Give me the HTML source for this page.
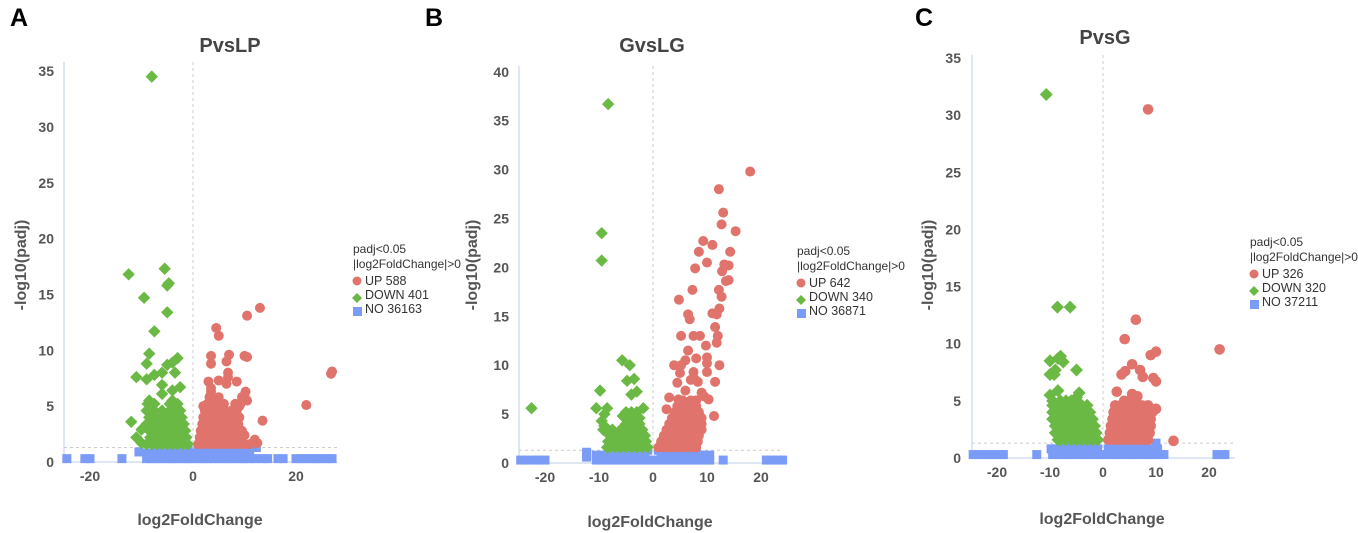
<!DOCTYPE html>
<html><head><meta charset="utf-8">
<style>
html,body{margin:0;padding:0;background:#fff;}
svg{display:block;font-family:"Liberation Sans",Arial,sans-serif;}
</style></head>
<body>
<svg id="chart" width="1358" height="533" viewBox="0 0 1358 533"></svg>
<script>
// ---------- data ----------
const panelTitles = ["PvsLP","GvsLG","PvsG"];
const panelLetters = ["A","B","C"];
const legendUp = ["UP 588","UP 642","UP 326"];
const legendDown = ["DOWN 401","DOWN 340","DOWN 320"];
const legendNo = ["NO 36163","NO 36871","NO 37211"];
const yTicksA = [0,5,10,15,20,25,30,35];
const yTicksB = [0,5,10,15,20,25,30,35,40];
const yTicksC = [0,5,10,15,20,25,30,35];
const xTicksA = [-20,0,20];
const xTicksB = [-20,-10,0,10,20];
const xTicksC = [-20,-10,0,10,20];
const threshold = 1.3;

// Panel A
const aUp = [[4.5,12],[5,11.3],[10.5,13.1],[13,13.8],[3.5,9.5],[3.5,8.8],[7,9.6],[6.5,9],[10,9.5],[10.5,9.4],[6.8,8],[6.8,7.6],[3,7.2],[3.5,6.6],[5,7.3],[6.5,7],[8.5,7.2],[9,5],[10,6],[10.5,5.5],[2,5],[13.5,3.7],[10,2.4],[12,2],[12.5,1.7],[22,5.1],[27,8.1],[26.8,7.9]];
const aUpRows = [
 [1.6,[1,2,3,4,5,6,7,8,9,10,11]],
 [2.2,[1.3,2.3,3.3,4.3,5.3,6.3,7.3,8.3,9.3]],
 [2.8,[1.5,2.5,3.5,4.5,5.5,6.5,7.5,8.5,9.5]],
 [3.4,[1.8,2.8,3.8,4.8,5.8,6.8,7.8,8.8]],
 [4.0,[2,3,4,5,6,7,8,9]],
 [4.6,[2.3,3.3,4.3,5.3,6.3,7.5,8.5]],
 [5.2,[2.8,4,5,6,8.2,9.2]],
 [5.8,[3.2,5,9.5]],
 [6.3,[3.5,10.2]]
];
const aDown = [[-8,34.5],[-5.5,17.3],[-12.5,16.8],[-5,15.8],[-4.7,16],[-9.5,14.7],[-5,13.4],[-7.5,11.7],[-8.5,9.7],[-9,8.8],[-3,9.3],[-4,8.9],[-5,8.7],[-11,7.6],[-9,7.4],[-7.5,7.8],[-6,8],[-3.5,8],[-6,6.9],[-4,6.4],[-2.5,6.7],[-6,6.1],[-8.5,5.5],[-7.5,5.2],[-4,5.5],[-12,3.6],[-10,2.9],[-11,2.2],[-10,1.7]];
const aDownRows = [
 [1.6,[-1,-2,-3,-4,-5,-6,-7,-8,-9]],
 [2.2,[-1.3,-2.3,-3.3,-4.3,-5.3,-6.3,-7.3,-8.3]],
 [2.8,[-1.5,-2.5,-3.5,-4.5,-5.5,-6.5,-7.5,-8.5]],
 [3.4,[-1.8,-2.8,-3.8,-4.8,-5.8,-6.8,-7.8,-9]],
 [4.0,[-2.2,-3.2,-4.2,-5.2,-6.2,-7.2,-8.5]],
 [4.6,[-2.5,-3.5,-4.5,-6,-7.5,-9]],
 [5.2,[-3,-4.5,-7.8,-8.8]]
];
const aNoRows = [
 [0.3,[-24.5,-21,-20,-13.8,-9,-8,-7,-6,-5,-4,-3,-2,-1,0,1,2,3,4,5,6,7,8,9,10,11,12,13.5,14.5,16.5,17.5,20,21,22,23,24,25,26,27]],
 [0.8,[-9,-8,-7,-6,-5,-4,-3,-2,-1,0,1,2,3,4,5,6,7,8,9,10,11]],
 [1.3,[-7,-6,-5,-4,-3,-2,-1,1,2,3,4,5,6,7,8,10.5,11.5,12.3]],
 [0.9,[-10.5]]
];

// Panel B
const bUp = [[18,29.8],[12.2,28],[13,25.6],[12.7,24.4],[15.3,23.7],[9.3,22.7],[11,22.3],[8.5,21.6],[14.3,21.6],[10,20.5],[13.2,20.3],[14,20.2],[7.8,19.9],[12.8,19.6],[13.5,18.6],[14,18.7],[7.3,17.7],[12.2,17.7],[12.7,17],[4.8,16.7],[12.3,15.8],[11,15.3],[11.8,15.2],[6.5,15.2],[6.8,14.7],[11.5,13.9],[12,13],[5.2,13],[7.5,13],[8.7,13],[11.8,12.3],[9.8,12],[6.5,11.5],[10,10.8],[10,10.2],[8,10.7],[3.9,10],[5.2,10],[6,10.5],[12.3,10],[5,9.2],[7.5,9.3],[7.7,8.6],[10,9.3],[11.5,8.3],[8.3,8.3],[7,8.5],[4.5,8.2],[6,7.4],[9,7.2],[9.5,6.8],[10.3,6.5],[3,6.7],[4.7,6.5],[11.3,4.8],[2.5,5.5],[8.5,5]];
const bUpRows = [
 [1.6,[1,2,3,4,5,6,7,8]],
 [2.2,[1.5,2.5,3.5,4.5,5.5,6.5,7.5,8.3]],
 [2.8,[2,3,4,5,6,7,8,8.5]],
 [3.4,[2.5,3.5,4.5,5.5,6.5,7.5,9]],
 [4.0,[3,4,5,6,7,8,9]],
 [4.6,[3.5,4.5,5.5,6.5,7.5,9]],
 [5.2,[4,5,6,7,8.5]],
 [5.8,[4.5,5.5,6.5,8]],
 [6.4,[5.5,7,8]]
];
const bDown = [[-8.3,36.7],[-9.5,23.5],[-9.5,20.7],[-22.5,5.6],[-5.7,10.5],[-4.3,10],[-4.8,8.4],[-3.5,8.6],[-9.8,7.4],[-3,7.3],[-4,7],[-10.5,5.6],[-8.5,5.6],[-9,5],[-9.5,4.3],[-9,3.8],[-9.2,3.4],[-5.6,4.8],[-1.8,5.6]];
const bDownRows = [
 [1.6,[-1,-2,-3,-4,-5,-6,-7,-8,-8.5]],
 [2.2,[-1.3,-2.3,-3.3,-4.3,-5.3,-6.3,-7.3,-8.3]],
 [2.8,[-1.5,-2.5,-3.5,-4.5,-5.5,-6.5,-7.5,-8]],
 [3.4,[-2,-3,-4,-5,-6,-7.5]],
 [4.0,[-2.5,-3,-4,-5]],
 [4.6,[-2.5,-3.5,-4.5,-5]],
 [5.2,[-3,-4,-5]]
];
const bNoRows = [
 [0.3,[-24.5,-23.5,-22,-21,-20,-10.5,-9.5,-8.5,-7.5,-6.5,-5.5,-4.5,-3.5,-2.5,-1.5,-0.5,0.5,1.5,2.5,3.5,4.5,5.5,6.5,7.5,8.5,9.5,10.5,13,21,22,23,24]],
 [0.8,[-10.5,-9.5,-8.5,-7.5,-6.5,-5.5,-4.5,-3.5,-2.5,-1.5,1.5,2.5,3.5,4.5,5.5,6.5,7.5,8.5,9.5,10.5]],
 [1.3,[-8,-7,-6,-5,-4,-3,-2,-1,1,2,3,4,5,6,7,8]],
 [1.1,[-12.3]],[0.6,[-12.3]]
];

// Panel C
const cUp = [[8.5,30.5],[6.2,12.1],[4.1,10.4],[22,9.5],[10,9.3],[9,9],[5.5,8.2],[7,7.7],[4.2,7.6],[3.5,7.3],[7.5,7.1],[9.5,7],[10,6.7],[2.6,5.8],[5.5,5.6],[6.5,5.4],[13.3,1.5],[10,4.3]];
const cUpRows = [
 [1.6,[1,2,3,4,5,6,7,8,8.5]],
 [2.2,[1.3,2.3,3.3,4.3,5.3,6.3,7.3,8.3,8.8]],
 [2.8,[1.5,2.5,3.5,4.5,5.5,6.5,7.5,8.5,9]],
 [3.4,[1.8,2.8,3.8,4.8,5.8,6.8,7.8,9]],
 [4.0,[2,3,4,5,6,7,8,9.3]],
 [4.6,[2.3,3.3,4.3,5.3,6.3,7.3,8.5]],
 [5.0,[4,5,6]]
];
const cDown = [[-10.7,31.8],[-8.6,13.2],[-6.2,13.2],[-8,8.9],[-8.5,8.7],[-10,8.5],[-7.5,8.4],[-9,7.7],[-5,7.7],[-9.2,7.3],[-10,7.3],[-10,5.5],[-8.5,5.9],[-4.5,5.7],[-5,5.3]];
const cDownRows = [
 [1.6,[-1,-2,-3,-4,-5,-6,-7,-8,-8.5]],
 [2.2,[-1.3,-2.3,-3.3,-4.3,-5.3,-6.3,-7.3,-8.3,-9]],
 [2.8,[-1.6,-2.6,-3.6,-4.6,-5.6,-6.6,-7.6,-8.6,-9]],
 [3.4,[-2,-3,-4,-5,-6,-7,-8,-9.5]],
 [4.0,[-2.5,-3.5,-4.5,-5.5,-6.5,-7.5,-8.5,-9.5]],
 [4.6,[-3,-4,-5,-6,-7,-8,-9.5]],
 [5.0,[-5,-6,-7,-8,-9.5]]
];
const cNoRows = [
 [0.3,[-24.5,-23.5,-22.5,-21.5,-20.5,-19.5,-18.8,-12.5,-9.5,-8.5,-7.5,-6.5,-5.5,-4.5,-3.5,-2.5,-1.5,-0.5,0.5,1.5,2.5,3.5,4.5,5.5,6.5,7.5,8.5,9.5,10.5,11.5,21.5,22.5,23]],
 [0.8,[-9.8,-9,-8,-7,-6,-5,-4,-3,-2,-1,1,2,3,4,5,6,7,8,9,10.3]],
 [1.3,[-7.5,-6.5,-5.5,-4.5,-3.5,-2.5,-1.5,1.5,2.5,3.5,4.5,5.5,6.5,7.5,10]]
];

// ---------- drawing ----------
const NS="http://www.w3.org/2000/svg";
const svg=document.getElementById('chart');
function mk(tag,attrs,parent){const e=document.createElementNS(NS,tag);for(const k in attrs)e.setAttribute(k,attrs[k]);(parent||svg).appendChild(e);return e;}
const RED="#e0736b",GREEN="#6bb945",BLUE="#7b9cf6",TXT="#555";

const panels=[
 {x0:193,xs:5.15,y0:462,ys:11.17,left:64,right:337,top:62,yt:yTicksA,xt:xTicksA,ylabX:54,xlabY:481,titleX:230,titleY:52,letterX:10,xTitleX:200,xTitleY:525,yTitleX:26,legX:353,legY:253,up:aUp,upRows:aUpRows,down:aDown,downRows:aDownRows,no:aNoRows,r:5},
 {x0:653,xs:5.4,y0:463,ys:9.78,left:519,right:782,top:66,yt:yTicksB,xt:xTicksB,ylabX:509,xlabY:482,titleX:652,titleY:52,letterX:425,xTitleX:650,xTitleY:527,yTitleX:477,legX:797,legY:255,up:bUp,upRows:bUpRows,down:bDown,downRows:bDownRows,no:bNoRows,r:5},
 {x0:1103,xs:5.3,y0:458,ys:11.43,left:972,right:1235,top:55,yt:yTicksC,xt:xTicksC,ylabX:961,xlabY:477,titleX:1105,titleY:44,letterX:915,xTitleX:1102,xTitleY:524,yTitleX:933,legX:1250,legY:246,up:cUp,upRows:cUpRows,down:cDown,downRows:cDownRows,no:cNoRows,r:5.3}
];

panels.forEach((p,i)=>{
 const g=mk('g',{});
 
 
 const X=v=>p.x0+v*p.xs, Y=v=>p.y0-v*p.ys;
 let t=mk('text',{x:p.letterX,y:26,'font-size':25,'font-weight':'bold',fill:'#000'},g);
 t.textContent=panelLetters[i];
 
 
 t=mk('text',{x:p.titleX,y:p.titleY,'font-size':20,'font-weight':'bold',fill:'#444','text-anchor':'middle'},g);
 t.textContent=panelTitles[i];
 
 
 let l=mk('line',{x1:p.left,y1:p.top,x2:p.left,y2:p.y0,stroke:'#d3ddef','stroke-width':1.5},g);
 
 
 l=mk('line',{x1:p.left,y1:p.y0,x2:p.right,y2:p.y0,stroke:'#d3ddef','stroke-width':1.5},g);
 
 
 p.yt.forEach(v=>{
  const tt=mk('text',{x:p.ylabX,y:Y(v)+5,'font-size':14,'font-weight':'bold',fill:TXT,'text-anchor':'end'},g);
  tt.textContent=v;
  
  
 });
 p.xt.forEach(v=>{
  const tt=mk('text',{x:X(v),y:p.xlabY,'font-size':14,'font-weight':'bold',fill:TXT,'text-anchor':'middle'},g);
  tt.textContent=v;
  
  
 });
 t=mk('text',{x:p.xTitleX,y:p.xTitleY,'font-size':16,'font-weight':'bold',fill:TXT,'text-anchor':'middle'},g);
 t.textContent='log2FoldChange';
 
 
 t=mk('text',{x:p.yTitleX,y:265,'font-size':16,'font-weight':'bold',fill:TXT,'text-anchor':'middle',transform:`rotate(-90 ${p.yTitleX} 265)`},g);
 t.textContent='-log10(padj)';
 
 
 l=mk('line',{x1:X(0),y1:p.top,x2:X(0),y2:p.y0,stroke:'#ccc','stroke-dasharray':'3,3'},g);
 
 
 l=mk('line',{x1:p.left,y1:Y(threshold),x2:p.right,y2:Y(threshold),stroke:'#ccc','stroke-dasharray':'3,3'},g);
 
 
 p.no.forEach(row=>row[1].forEach(x=>{
  const s=mk('rect',{x:X(x)-4.5,y:Y(row[0])-4.5,width:9,height:9,fill:BLUE},g);
  
  
 }));
 const drawDown=(x,y)=>{
  const cx=X(x),cy=Y(y),r=p.r+1.2;
  const d=mk('polygon',{points:`${cx},${cy-r} ${cx+r},${cy} ${cx},${cy+r} ${cx-r},${cy}`,fill:GREEN},g);
  
  
 };
 const drawUp=(x,y)=>{
  const c=mk('circle',{cx:X(x),cy:Y(y),r:p.r,fill:RED},g);
  
  
 };
 p.downRows.forEach(row=>row[1].forEach(x=>drawDown(x,row[0])));
 p.down.forEach(q=>drawDown(q[0],q[1]));
 p.upRows.forEach(row=>row[1].forEach(x=>drawUp(x,row[0])));
 p.up.forEach(q=>drawUp(q[0],q[1]));
 const lg=mk('g',{},g);
 
 
 t=mk('text',{x:p.legX,y:p.legY,'font-size':12,fill:'#333'},lg);t.textContent='padj<0.05';
 
 
 t=mk('text',{x:p.legX,y:p.legY+15,'font-size':12,fill:'#333'},lg);t.textContent='|log2FoldChange|>0';
 
 
 const ly=p.legY+32;
 let m=mk('circle',{cx:p.legX+4,cy:ly-4,r:4.5,fill:RED},lg);
 
 
 t=mk('text',{x:p.legX+12,y:ly,'font-size':12.5,fill:'#333'},lg);t.textContent=legendUp[i];
 
 
 m=mk('polygon',{points:`${p.legX+4},${ly+8} ${p.legX+9},${ly+13} ${p.legX+4},${ly+18} ${p.legX-1},${ly+13}`,fill:GREEN},lg);
 
 
 t=mk('text',{x:p.legX+12,y:ly+14,'font-size':12.5,fill:'#333'},lg);t.textContent=legendDown[i];
 
 
 m=mk('rect',{x:p.legX,y:ly+22,width:9,height:9,fill:BLUE},lg);
 
 
 t=mk('text',{x:p.legX+12,y:ly+28,'font-size':12.5,fill:'#333'},lg);t.textContent=legendNo[i];
 
 
});
</script>
</body></html>
